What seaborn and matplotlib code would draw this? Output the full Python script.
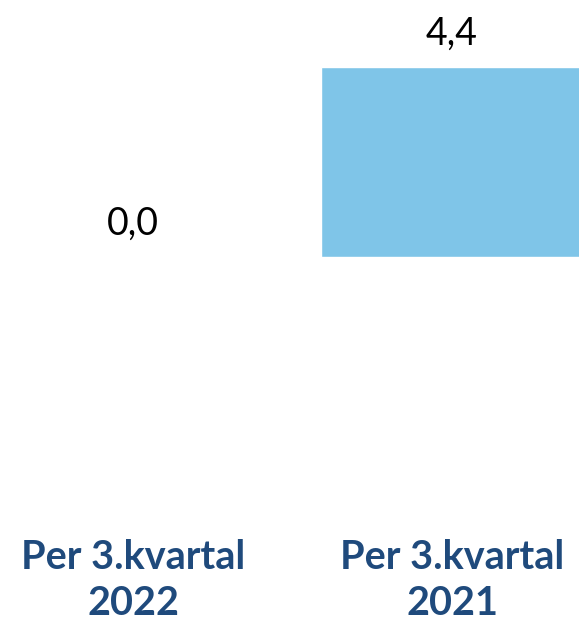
import matplotlib
matplotlib.use("Agg")
import matplotlib.pyplot as plt
import seaborn as sns
import pandas as pd

categories = ["Per 3.kvartal\n2022", "Per 3.kvartal\n2021"]
values = [0.0, 4.4]
value_labels = ["0,0", "4,4"]

sns.set_theme(style="white")
plt.rcParams['font.family'] = ['Lato', 'DejaVu Sans']

df = pd.DataFrame({"cat": categories, "val": values})

fig = plt.figure(figsize=(5.79, 6.27), dpi=100)
W, H = 579, 627
base_px = 257
ax = fig.add_axes([0, (H - base_px) / H, 1, base_px / H])

sns.barplot(data=df, x="cat", y="val", order=categories, color="#7FC5E8",
            saturation=1, width=0.82, ax=ax)

px_per_unit = 190 / 4.4
ax.set_ylim(0, base_px / px_per_unit)
ax.set_xlim(-133 / 319, 1 + (W - 452) / 319)

for c in ax.containers:
    ax.bar_label(c, labels=value_labels, padding=11, fontsize=27, color="black")

ax.set_xlabel("")
ax.set_ylabel("")
ax.set_yticks([])
ax.tick_params(axis="x", length=0, pad=203, labelsize=28.5, labelcolor="#1F4A7C")
for t in ax.get_xticklabels():
    t.set_fontweight("bold")
    t.set_linespacing(1.3)
for s in ax.spines.values():
    s.set_visible(False)

fig.savefig("out.png", dpi=100)
